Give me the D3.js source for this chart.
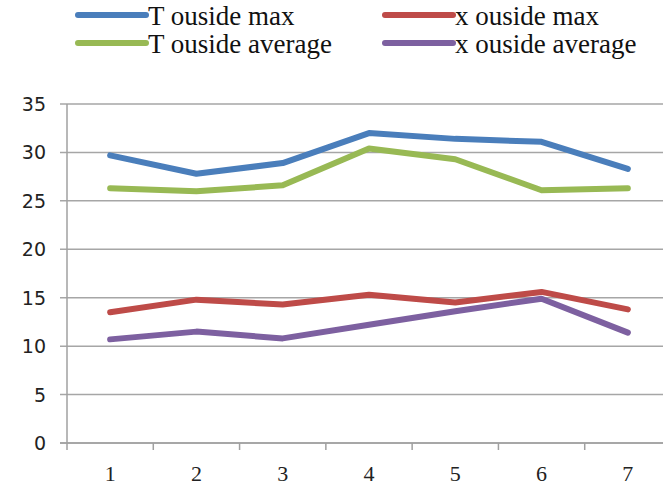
<!DOCTYPE html>
<html>
<head>
<meta charset="utf-8">
<script src="https://cdn.jsdelivr.net/npm/d3@7"></script>
<style>
  body { margin: 0; background: #fff; }
  svg { display: block; }
</style>
</head>
<body>
<div id="chart"></div>
<script>
const categories = ["1", "2", "3", "4", "5", "6", "7"];
const tOutsideMax = [29.7, 27.8, 28.9, 32.0, 31.4, 31.1, 28.3];
const xOutsideMax = [13.5, 14.8, 14.3, 15.3, 14.5, 15.6, 13.8];
const tOutsideAverage = [26.3, 26.0, 26.6, 30.4, 29.3, 26.1, 26.3];
const xOutsideAverage = [10.7, 11.5, 10.8, 12.2, 13.6, 14.9, 11.4];
const yTicks = [0, 5, 10, 15, 20, 25, 30, 35];

const series = [
  { name: "T ouside max", values: tOutsideMax, color: "#4a7ebb" },
  { name: "x ouside max", values: xOutsideMax, color: "#be4b48" },
  { name: "T ouside average", values: tOutsideAverage, color: "#98b954" },
  { name: "x ouside average", values: xOutsideAverage, color: "#7d60a0" },
];

const width = 663, height = 488;
const svg = d3.select("#chart").append("svg")
  .attr("width", width).attr("height", height);

const x = d3.scaleBand().domain(categories).range([67, 671]);
const y = d3.scaleLinear().domain([0, 35]).range([443, 104]);

// gridlines
svg.append("g")
  .selectAll("line")
  .data(yTicks)
  .enter()
  .append("line")
  .attr("x1", 60).attr("x2", width)
  .attr("y1", (d) => y(d)).attr("y2", (d) => y(d))
  .attr("stroke", "#a6a6a6").attr("stroke-width", 1.5);

// y axis line
svg.append("line")
  .attr("x1", 67).attr("x2", 67)
  .attr("y1", y(35)).attr("y2", y(0))
  .attr("stroke", "#a0a0a0").attr("stroke-width", 1.5);

// y labels
svg.append("g")
  .selectAll("text")
  .data(yTicks)
  .enter()
  .append("text")
  .attr("x", 46)
  .attr("y", (d) => y(d) + 7)
  .attr("text-anchor", "end")
  .attr("font-family", "DejaVu Sans, Verdana, sans-serif")
  .attr("font-size", 19)
  .attr("fill", "#222")
  .text((d) => d);

// x axis
const xAxis = svg.append("g")
  .attr("transform", `translate(0,${y(0)})`)
  .call(d3.axisBottom(x).tickSize(0).tickPadding(22));
xAxis.select(".domain").remove();
xAxis.append("line")
  .attr("x1", 60).attr("x2", width)
  .attr("stroke", "#a0a0a0").attr("stroke-width", 1.5);
xAxis.selectAll(".band-tick")
  .data(categories)
  .enter()
  .append("line")
  .attr("x1", (d) => x(d)).attr("x2", (d) => x(d))
  .attr("y1", 0).attr("y2", 7)
  .attr("stroke", "#a0a0a0").attr("stroke-width", 1.5);
xAxis.selectAll(".tick text")
  .attr("font-family", "Liberation Serif, Times New Roman, serif")
  .attr("font-size", 22)
  .attr("fill", "#222");

// lines
const line = d3.line()
  .x((d, i) => x(categories[i]) + x.bandwidth() / 2)
  .y((d) => y(d));

svg.append("g")
  .selectAll("path")
  .data(series)
  .enter()
  .append("path")
  .attr("d", (s) => line(s.values))
  .attr("fill", "none")
  .attr("stroke", (s) => s.color)
  .attr("stroke-width", 6)
  .attr("stroke-linecap", "round")
  .attr("stroke-linejoin", "round");

// legend
const legendPos = [
  { x: 78, y: 15 },
  { x: 385, y: 15 },
  { x: 78, y: 43 },
  { x: 385, y: 43 },
];
const legend = svg.append("g")
  .selectAll("g")
  .data(series)
  .enter()
  .append("g")
  .attr("transform", (s, i) => `translate(${legendPos[i].x},${legendPos[i].y})`);
legend.append("line")
  .attr("x1", 0).attr("x2", 68)
  .attr("stroke", (s) => s.color)
  .attr("stroke-width", 6)
  .attr("stroke-linecap", "round");
legend.append("text")
  .attr("x", 70)
  .attr("y", 10)
  .attr("font-family", "Liberation Serif, Times New Roman, serif")
  .attr("font-size", 27)
  .attr("fill", "#111")
  .text((s) => s.name);
</script>
</body>
</html>
